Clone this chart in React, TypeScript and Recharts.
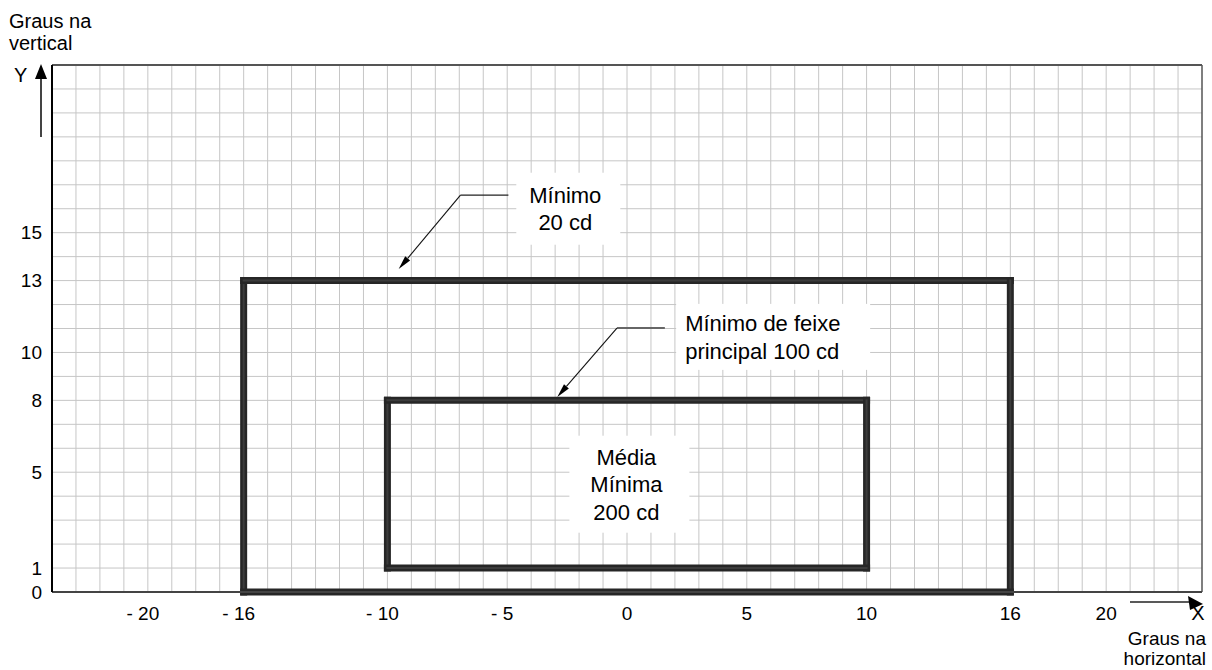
import { ComposedChart, XAxis, YAxis, ReferenceLine, ReferenceDot } from "recharts"

const FONT = '"Liberation Sans", Arial, Helvetica, sans-serif'

// eixos (graus)
const xTicks = [-20, -16, -10, -5, 0, 5, 10, 16, 20]
const yTicks = [0, 1, 5, 8, 10, 13, 15]
const xLimits = [-24, 24]
const yLimits = [0, 22]

// zonas de intensidade
const zoneNames = ["Mínimo 20 cd", "Mínimo de feixe principal 100 cd"]
const zoneX = [[-16, 16], [-10, 10]]
const zoneY = [[0, 13], [1, 8]]

// textos das notas
const noteLines = [["Mínimo", "20 cd"], ["Mínimo de feixe", "principal 100 cd"], ["Média", "Mínima", "200 cd"]]

// malha de 1 grau
const gridX = Array.from({ length: 47 }, (_, i) => i - 23)
const gridY = Array.from({ length: 21 }, (_, i) => i + 1)

const fmtX = (v: number) => (v < 0 ? "- " + Math.abs(v) : String(v))

function XTick(props: any) {
  const { x, y, payload } = props
  const v = payload.value
  return (
    <text x={x + (v < 0 ? -5 : 0)} y={y} dy="0.71em" textAnchor="middle" fontSize={19} fontFamily={FONT} fill="#000">
      {fmtX(v)}
    </text>
  )
}

function NoteBox({ cx, cy, lines, w, h, anchor, tx }: any) {
  if (cx == null || cy == null) return null
  const step = 27.5
  const top = cy - ((lines.length - 1) * step) / 2
  return (
    <g>
      <rect x={cx - w / 2} y={cy - h / 2} width={w} height={h} fill="#fff" />
      {lines.map((l: string, i: number) => (
        <text key={i} x={cx + tx} y={top + i * step + 8} textAnchor={anchor} fontSize={22} fontFamily={FONT} fill="#000">
          {l}
        </text>
      ))}
    </g>
  )
}

function Arrow(props: any) {
  const { x1, y1, x2, y2 } = props
  const ang = Math.atan2(y2 - y1, x2 - x1)
  const len = 14
  const hw = 3.2
  const bx = x2 - len * Math.cos(ang)
  const by = y2 - len * Math.sin(ang)
  const px = -Math.sin(ang) * hw
  const py = Math.cos(ang) * hw
  return (
    <g>
      <line x1={x1} y1={y1} x2={bx} y2={by} stroke="#111" strokeWidth={1.1} />
      <path d={`M${x2},${y2} L${bx + px},${by + py} L${bx - px},${by - py} Z`} fill="#000" />
    </g>
  )
}

// moldura grossa da zona (duas tonalidades, como no original)
function Edge(props: any) {
  const { x1, y1, x2, y2 } = props
  if (x1 == null) return null
  return (
    <g>
      <line x1={x1} y1={y1} x2={x2} y2={y2} stroke="#262626" strokeWidth={7} strokeLinecap="square" />
      <line x1={x1} y1={y1} x2={x2} y2={y2} stroke="#3c3c3c" strokeWidth={2} strokeLinecap="square" />
    </g>
  )
}

function zoneEdges(i: number) {
  const [a, b] = zoneX[i]
  const [c, d] = zoneY[i]
  return [
    [{ x: a, y: c }, { x: a, y: d }],
    [{ x: a, y: d }, { x: b, y: d }],
    [{ x: b, y: d }, { x: b, y: c }],
    [{ x: b, y: c }, { x: a, y: c }],
  ]
}

export default function App() {
  return (
    <div style={{ position: "absolute", left: 0, top: 0, width: 1212, height: 670, background: "#fff" }}>
      <ComposedChart width={1212} height={670} data={[]} margin={{ top: 65, right: 10, bottom: 48, left: 0 }}>
        <XAxis
          type="number"
          dataKey="x"
          domain={xLimits}
          ticks={xTicks}
          interval={0}
          allowDataOverflow
          height={30}
          tickSize={6}
          tickMargin={9}
          tickLine={false}
          axisLine={{ stroke: "#444", strokeWidth: 2 }}
          tick={<XTick />}
        />
        <YAxis
          type="number"
          dataKey="y"
          domain={yLimits}
          ticks={yTicks}
          interval={0}
          allowDataOverflow
          width={52}
          tickSize={6}
          tickMargin={4}
          tickLine={false}
          axisLine={{ stroke: "#000", strokeWidth: 2 }}
          tick={{ fontSize: 19, fontFamily: FONT, fill: "#000" }}
        />
        {gridX.map((v) => (
          <ReferenceLine key={"gx" + v} x={v} stroke="#c6c6c6" strokeWidth={1} />
        ))}
        {gridY.map((v) => (
          <ReferenceLine key={"gy" + v} y={v} stroke="#c6c6c6" strokeWidth={1} />
        ))}
        <ReferenceLine y={yLimits[1]} stroke="#555" strokeWidth={2} />
        <ReferenceLine x={xLimits[1]} stroke="#555" strokeWidth={1.5} />
        {zoneNames.flatMap((n, i) =>
          zoneEdges(i).map((seg, k) => (
            <ReferenceLine key={"z" + i + k} segment={seg as any} ifOverflow="visible" shape={(p: any) => <Edge {...p} />} />
          ))
        )}
        <ReferenceDot
          x={-2.45}
          y={16}
          r={0}
          shape={(p: any) => <NoteBox cx={p.cx} cy={p.cy} lines={noteLines[0]} w={104} h={72} anchor="middle" tx={-3} />}
        />
        <ReferenceDot
          x={6.1}
          y={10.65}
          r={0}
          shape={(p: any) => <NoteBox cx={p.cx} cy={p.cy} lines={noteLines[1]} w={194} h={66} anchor="start" tx={-88} />}
        />
        <ReferenceDot
          x={0.1}
          y={4.5}
          r={0}
          shape={(p: any) => <NoteBox cx={p.cx} cy={p.cy} lines={noteLines[2]} w={120} h={97} anchor="middle" tx={-3} />}
        />
        <ReferenceLine segment={[{ x: -4.95, y: 16.57 }, { x: -6.95, y: 16.57 }]} stroke="#222" strokeWidth={1.2} />
        <ReferenceLine segment={[{ x: -6.95, y: 16.57 }, { x: -9.53, y: 13.48 }]} shape={(p: any) => <Arrow {...p} />} />
        <ReferenceLine segment={[{ x: 1.58, y: 11.02 }, { x: -0.42, y: 11.02 }]} stroke="#666" strokeWidth={2} />
        <ReferenceLine segment={[{ x: -0.42, y: 11.02 }, { x: -2.91, y: 8.14 }]} shape={(p: any) => <Arrow {...p} />} />
      </ComposedChart>
      <svg width={1212} height={670} style={{ position: "absolute", left: 0, top: 0, pointerEvents: "none" }}>
        <g fontFamily={FONT} fontSize={20} fill="#000">
          <text x={9} y={28}>Graus na</text>
          <text x={9} y={50}>vertical</text>
          <text x={14} y={82}>Y</text>
          <text x={1206} y={645} fontSize={19} textAnchor="end">Graus na</text>
          <text x={1206} y={665} fontSize={19} textAnchor="end">horizontal</text>
          <text x={1198} y={620} textAnchor="middle">X</text>
        </g>
        <line x1={41} y1={78} x2={41} y2={137} stroke="#444" strokeWidth={2} />
        <path d="M41,64 L35,79 L47,79 Z" fill="#000" />
        <line x1={1130} y1={602} x2={1190} y2={602} stroke="#222" strokeWidth={1.5} />
        <path d="M1203,604 L1188,596 L1190,610 Z" fill="#000" />
      </svg>
    </div>
  )
}
